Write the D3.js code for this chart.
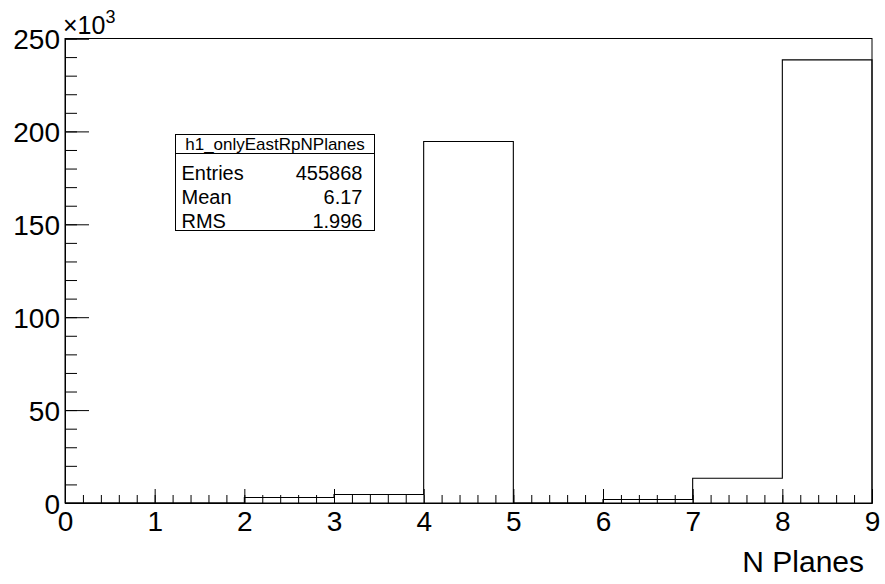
<!DOCTYPE html>
<html>
<head>
<meta charset="utf-8">
<script src="https://cdn.jsdelivr.net/npm/d3@7"></script>
<style>
  body { margin: 0; background: #fff; }
  text { font-family: "Liberation Sans", Arial, Helvetica, sans-serif; fill: #000; }
</style>
</head>
<body>
<div id="chart"></div>
<script>
// Histogram bins (N Planes), contents in entries
const binEdges = [0, 1, 2, 3, 4, 5, 6, 7, 8, 9];
const binCounts = [0, 0, 3000, 4600, 194600, 0, 1900, 13300, 238500];
const xTicks = [0, 1, 2, 3, 4, 5, 6, 7, 8, 9];
const yTicks = [0, 50000, 100000, 150000, 200000, 250000];
const statsTitle = 'h1_onlyEastRpNPlanes';
const statsRows = [['Entries', '455868'], ['Mean', '6.17'], ['RMS', '1.996']];

const width = 885, height = 584;
const margin = { top: 38.5, right: 13, bottom: 81, left: 65 };
const innerWidth = width - margin.left - margin.right;
const innerHeight = height - margin.top - margin.bottom;

const svg = d3.select('#chart')
    .append('svg')
    .attr('width', width)
    .attr('height', height);

const g = svg.append('g')
    .attr('transform', `translate(${margin.left},${margin.top})`);

const x = d3.scaleLinear().domain([0, 9]).range([0, innerWidth]);
const y = d3.scaleLinear().domain([0, 250000]).range([innerHeight, 0]);

// Frame
g.append('rect')
    .attr('x', 0).attr('y', 0)
    .attr('width', innerWidth).attr('height', innerHeight)
    .attr('fill', 'none')
    .attr('stroke', '#000')
    .attr('stroke-width', 1);

// Histogram step outline
const pts = [[binEdges[0], 0]];
binCounts.forEach((c, i) => {
    pts.push([binEdges[i], c]);
    pts.push([binEdges[i + 1], c]);
});
pts.push([binEdges[binEdges.length - 1], 0]);
g.append('path')
    .attr('d', d3.line().x(d => x(d[0])).y(d => y(d[1]))(pts))
    .attr('fill', 'none')
    .attr('stroke', '#000')
    .attr('stroke-width', 1.1);

// X axis: minor + major ticks drawn inward
g.append('g')
    .attr('transform', `translate(0,${innerHeight})`)
    .call(d3.axisBottom(x).tickValues(d3.range(0, 9.001, 0.2)).tickSize(-8).tickFormat(''))
    .call(a => a.select('.domain').remove())
    .call(a => a.selectAll('text').remove());
const xAxis = g.append('g')
    .attr('transform', `translate(0,${innerHeight})`)
    .call(d3.axisBottom(x).tickValues(xTicks).tickSize(-14).tickPadding(8).tickFormat(d3.format('d')));
xAxis.select('.domain').attr('stroke', '#000');
xAxis.selectAll('text').style('font-size', '28px');

// Y axis
g.append('g')
    .call(d3.axisLeft(y).tickValues(d3.range(0, 250001, 10000)).tickSize(-12).tickFormat(''))
    .call(a => a.select('.domain').remove())
    .call(a => a.selectAll('text').remove());
const yAxis = g.append('g')
    .call(d3.axisLeft(y).tickValues(yTicks).tickSize(-24).tickPadding(5).tickFormat(d => d / 1000));
yAxis.select('.domain').attr('stroke', '#000');
yAxis.selectAll('text').style('font-size', '28px').attr('dy', '0.36em');
g.selectAll('.tick line').attr('stroke', '#000');

// Exponent label
const expo = svg.append('text')
    .attr('x', 63)
    .attr('y', 34)
    .style('font-size', '25px');
expo.append('tspan').text('\u00d710');
expo.append('tspan').attr('dy', -11).style('font-size', '18px').text('3');

// Axis title
svg.append('text')
    .attr('x', 864)
    .attr('y', 572)
    .attr('text-anchor', 'end')
    .style('font-size', '30px')
    .text('N Planes');

// Stats box
const box = { x: 175.5, y: 134.5, w: 199, h: 96, head: 19 };
const sb = svg.append('g');
sb.append('rect')
    .attr('x', box.x).attr('y', box.y)
    .attr('width', box.w).attr('height', box.h)
    .attr('fill', '#fff').attr('stroke', '#000');
sb.append('line')
    .attr('x1', box.x).attr('x2', box.x + box.w)
    .attr('y1', box.y + box.head).attr('y2', box.y + box.head)
    .attr('stroke', '#000');
sb.append('text')
    .attr('x', box.x + box.w / 2)
    .attr('y', box.y + 15)
    .attr('text-anchor', 'middle')
    .style('font-size', '17px')
    .text(statsTitle);
statsRows.forEach(([k, v], i) => {
    const ty = box.y + 45 + i * 24;
    sb.append('text').attr('x', box.x + 6).attr('y', ty)
        .style('font-size', '20px').text(k);
    sb.append('text').attr('x', box.x + box.w - 12).attr('y', ty)
        .attr('text-anchor', 'end')
        .style('font-size', '20px').text(v);
});
</script>
</body>
</html>
